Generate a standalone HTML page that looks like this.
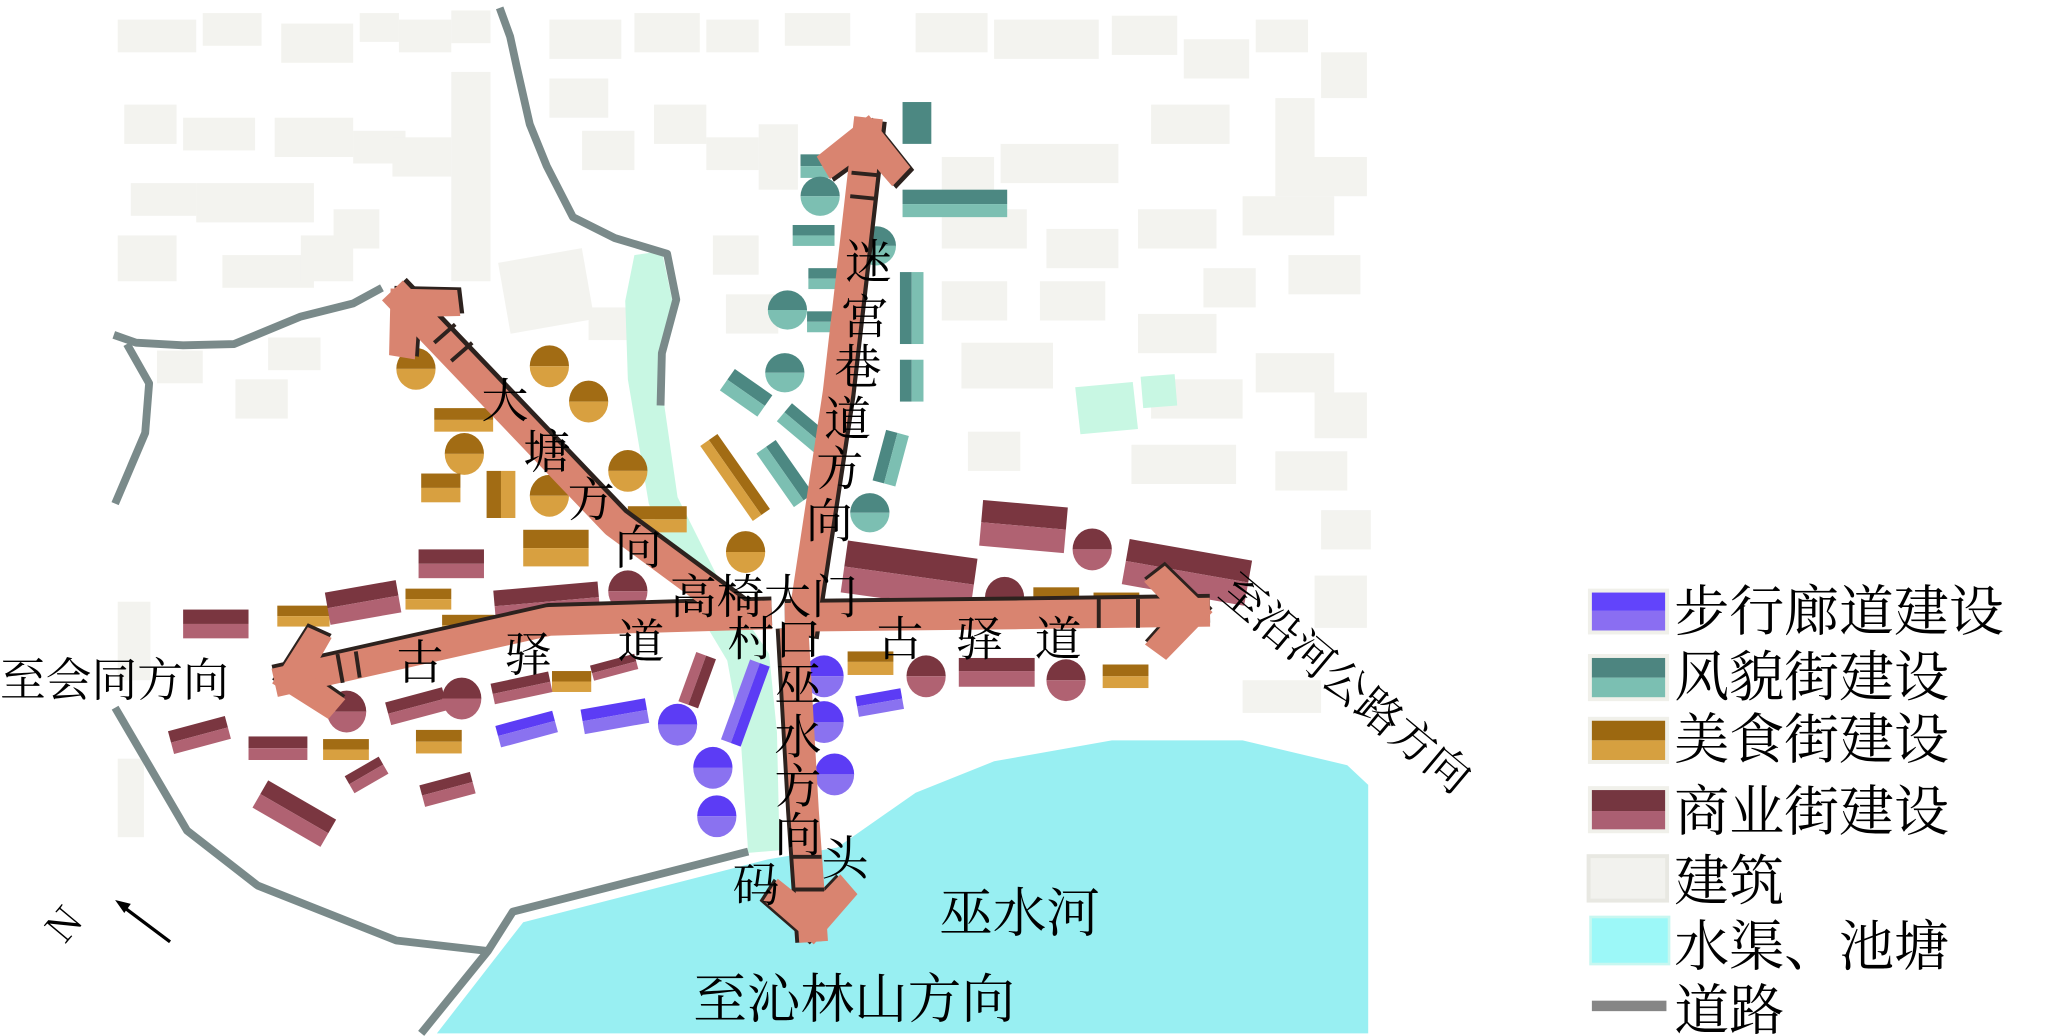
<!DOCTYPE html>
<html><head><meta charset="utf-8">
<style>
html,body{margin:0;padding:0;background:#fff;}
svg{display:block;}
text{font-family:"Noto Serif CJK SC","Liberation Serif",serif;fill:#000;}
</style></head>
<body>
<svg width="2051" height="1036" viewBox="0 0 1568 792" preserveAspectRatio="none" xmlns="http://www.w3.org/2000/svg">
<defs>
<marker id="ah" markerUnits="userSpaceOnUse" markerWidth="90" markerHeight="90" refX="4" refY="0" viewBox="-55 -45 70 90" orient="auto">
<path d="M6,0 L-30,-36 L-46,-24 L-24,0 L-46,24 L-30,36 Z" fill="#d98470"/>
</marker>
<marker id="sh" markerUnits="userSpaceOnUse" markerWidth="90" markerHeight="90" refX="4" refY="0" viewBox="-55 -45 70 90" orient="auto">
<path d="M6,0 L-30,-36 L-46,-24 L-24,0 L-46,24 L-30,36 Z" fill="#2d221e"/>
</marker>
</defs>
<rect width="1568" height="792" fill="#fff"/>
<g fill="#f3f3ef">
<rect x="90" y="15" width="60" height="25"/><rect x="155" y="10" width="45" height="25"/><rect x="215" y="18" width="55" height="30"/><rect x="275" y="10" width="30" height="22"/><rect x="305" y="15" width="40" height="25"/><rect x="345" y="8" width="30" height="25"/>
<rect x="420" y="15" width="55" height="30"/><rect x="485" y="10" width="50" height="30"/><rect x="540" y="15" width="40" height="25"/><rect x="600" y="10" width="50" height="25"/><rect x="700" y="10" width="55" height="30"/><rect x="760" y="15" width="80" height="30"/><rect x="850" y="12" width="50" height="30"/><rect x="905" y="30" width="50" height="30"/><rect x="960" y="15" width="40" height="25"/><rect x="1010" y="40" width="35" height="35"/>
<rect x="95" y="80" width="40" height="30"/><rect x="140" y="90" width="55" height="25"/><rect x="210" y="90" width="60" height="30"/><rect x="270" y="100" width="40" height="25"/><rect x="300" y="105" width="45" height="30"/><rect x="345" y="55" width="30" height="160"/>
<rect x="420" y="60" width="45" height="30"/><rect x="445" y="100" width="40" height="30"/><rect x="500" y="80" width="40" height="30"/><rect x="540" y="105" width="40" height="25"/><rect x="580" y="95" width="30" height="50"/>
<rect x="720" y="120" width="40" height="30"/><rect x="765" y="110" width="90" height="30"/><rect x="880" y="80" width="60" height="30"/><rect x="975" y="75" width="30" height="75"/><rect x="1000" y="120" width="45" height="30"/>
<rect x="100" y="140" width="50" height="25"/><rect x="150" y="140" width="90" height="30"/><rect x="255" y="160" width="35" height="30"/><rect x="170" y="195" width="70" height="25"/><rect x="230" y="180" width="40" height="35"/><rect x="90" y="180" width="45" height="35"/>
<rect x="385" y="195" width="65" height="55" transform="rotate(-10 417 222)"/><rect x="450" y="235" width="45" height="25"/><rect x="555" y="225" width="40" height="30"/><rect x="545" y="180" width="35" height="30"/>
<rect x="720" y="160" width="65" height="30"/><rect x="800" y="175" width="55" height="30"/><rect x="870" y="160" width="60" height="30"/><rect x="950" y="150" width="70" height="30"/><rect x="985" y="195" width="55" height="30"/>
<rect x="720" y="215" width="50" height="30"/><rect x="795" y="215" width="50" height="30"/><rect x="870" y="240" width="60" height="30"/><rect x="920" y="205" width="40" height="30"/><rect x="735" y="262" width="70" height="35"/><rect x="880" y="290" width="70" height="30"/><rect x="960" y="270" width="60" height="30"/><rect x="1005" y="300" width="40" height="35"/><rect x="865" y="340" width="80" height="30"/><rect x="975" y="345" width="55" height="30"/><rect x="740" y="330" width="40" height="30"/><rect x="1010" y="390" width="38" height="30"/>
<rect x="120" y="268" width="35" height="25"/><rect x="180" y="290" width="40" height="30"/><rect x="205" y="258" width="40" height="25"/><rect x="90" y="460" width="25" height="60"/><rect x="90" y="580" width="20" height="60"/><rect x="1005" y="440" width="40" height="40"/><rect x="950" y="520" width="60" height="25"/>
</g>
<path d="M334,790 L400,705 L587,657 L640,648 L700,606 L760,582 L850,566 L950,566 L1030,585 L1046,600 L1046,790 Z" fill="#98eff2"/>
<path d="M485,195 L506,192 L514,230 L505,290 L518,380 L548,440 L588,500 L594,560 L596,650 L572,652 L566,560 L556,505 L520,445 L496,385 L480,290 L478,230 Z" fill="#c8f7e3"/>
<path d="M822,296 L866,292 L870,328 L826,332 Z M872,288 L898,286 L900,310 L874,312 Z" fill="#c8f7e3"/>
<g fill="none" stroke="#7a8a8a" stroke-width="6" stroke-linejoin="round">
<path d="M382,6 L390,28 L395,51 L405,95 L418,127 L438,166 L470,182 L510,194 L517,229 L506,270 L505,310"/>
<path d="M292,220 L270,232 L230,242 L179,263 L140,264 L104,262 L87,256"/>
<path d="M97,263 L114,293 L111,331 L88,385"/>
<path d="M88,541 L112,582 L143,635 L197,677 L303,719 L373,727"/>
<path d="M322,790 L373,727 L392,697 L572,651"/>
</g>
<g>
<g fill="#4c8882"><rect x="690" y="78" width="22" height="32"/><rect x="612" y="118" width="30" height="9"/><rect x="690" y="145" width="80" height="11"/><rect x="606" y="172" width="32" height="8"/><rect x="618" y="205" width="35" height="8"/><rect x="688" y="208" width="9" height="55"/><rect x="617" y="238" width="30" height="8"/><rect x="688" y="275" width="9" height="32"/></g>
<g fill="#7cbfb2"><rect x="612" y="127" width="30" height="9"/><rect x="690" y="156" width="80" height="10"/><rect x="606" y="180" width="32" height="8"/><rect x="618" y="213" width="35" height="8"/><rect x="697" y="208" width="9" height="55"/><rect x="617" y="246" width="30" height="8"/><rect x="697" y="275" width="9" height="32"/></g>
<g transform="rotate(35 570 300)"><rect x="553" y="290" width="35" height="10" fill="#4c8882"/><rect x="553" y="300" width="35" height="10" fill="#7cbfb2"/></g>
<g transform="rotate(40 615 328)"><rect x="595" y="319" width="40" height="9" fill="#4c8882"/><rect x="595" y="328" width="40" height="9" fill="#7cbfb2"/></g>
<g transform="rotate(55 600 362)"><rect x="575" y="353" width="50" height="9" fill="#4c8882"/><rect x="575" y="362" width="50" height="9" fill="#7cbfb2"/></g>
<g transform="rotate(15 680 350)"><rect x="672" y="330" width="9" height="40" fill="#4c8882"/><rect x="681" y="330" width="9" height="40" fill="#7cbfb2"/></g>
<g><path d="M612,150 a15,15 0 0 1 30,0 Z" fill="#4c8882"/><path d="M612,150 a15,15 0 0 0 30,0 Z" fill="#7cbfb2"/></g>
<g><path d="M655,188 a15,15 0 0 1 30,0 Z" fill="#4c8882"/><path d="M655,188 a15,15 0 0 0 30,0 Z" fill="#7cbfb2"/></g>
<g><path d="M587,237 a15,15 0 0 1 30,0 Z" fill="#4c8882"/><path d="M587,237 a15,15 0 0 0 30,0 Z" fill="#7cbfb2"/></g>
<g><path d="M585,285 a15,15 0 0 1 30,0 Z" fill="#4c8882"/><path d="M585,285 a15,15 0 0 0 30,0 Z" fill="#7cbfb2"/></g>
<g><path d="M650,392 a15,15 0 0 1 30,0 Z" fill="#4c8882"/><path d="M650,392 a15,15 0 0 0 30,0 Z" fill="#7cbfb2"/></g>
<g fill="#a26c14">
<path d="M303,282 a15,16 0 0 1 30,0 Z"/><path d="M405,280 a15,16 0 0 1 30,0 Z"/><path d="M435,307 a15,16 0 0 1 30,0 Z"/><path d="M340,347 a15,16 0 0 1 30,0 Z"/><path d="M465,360 a15,16 0 0 1 30,0 Z"/><path d="M405,379 a15,16 0 0 1 30,0 Z"/><path d="M555,422 a15,16 0 0 1 30,0 Z"/>
</g>
<g fill="#d8a040">
<path d="M303,282 a15,16 0 0 0 30,0 Z"/><path d="M405,280 a15,16 0 0 0 30,0 Z"/><path d="M435,307 a15,16 0 0 0 30,0 Z"/><path d="M340,347 a15,16 0 0 0 30,0 Z"/><path d="M465,360 a15,16 0 0 0 30,0 Z"/><path d="M405,379 a15,16 0 0 0 30,0 Z"/><path d="M555,422 a15,16 0 0 0 30,0 Z"/>
</g>
<g>
<rect x="332" y="312" width="45" height="9" fill="#a26c14"/><rect x="332" y="321" width="45" height="9" fill="#d8a040"/>
<rect x="322" y="362" width="30" height="11" fill="#a26c14"/><rect x="322" y="373" width="30" height="11" fill="#d8a040"/>
<rect x="372" y="360" width="11" height="36" fill="#a26c14"/><rect x="383" y="360" width="11" height="36" fill="#d8a040"/>
<rect x="400" y="405" width="50" height="14" fill="#a26c14"/><rect x="400" y="419" width="50" height="14" fill="#d8a040"/>
<rect x="480" y="387" width="45" height="10" fill="#a26c14"/><rect x="480" y="397" width="45" height="10" fill="#d8a040"/>
<g transform="rotate(55 562 365)"><rect x="527" y="357" width="70" height="8" fill="#a26c14"/><rect x="527" y="365" width="70" height="8" fill="#d8a040"/></g>
<rect x="212" y="463" width="40" height="8" fill="#a26c14"/><rect x="212" y="471" width="40" height="8" fill="#d8a040"/>
<rect x="310" y="450" width="35" height="8" fill="#a26c14"/><rect x="310" y="458" width="35" height="8" fill="#d8a040"/>
<rect x="338" y="470" width="40" height="8" fill="#a26c14"/><rect x="338" y="478" width="40" height="8" fill="#d8a040"/>
<rect x="422" y="513" width="30" height="8" fill="#a26c14"/><rect x="422" y="521" width="30" height="8" fill="#d8a040"/>
<rect x="247" y="565" width="35" height="8" fill="#a26c14"/><rect x="247" y="573" width="35" height="8" fill="#d8a040"/>
<rect x="318" y="558" width="35" height="9" fill="#a26c14"/><rect x="318" y="567" width="35" height="9" fill="#d8a040"/>
<rect x="790" y="449" width="35" height="9" fill="#a26c14"/><rect x="790" y="458" width="35" height="9" fill="#d8a040"/>
<rect x="836" y="453" width="35" height="9" fill="#a26c14"/><rect x="836" y="462" width="35" height="9" fill="#d8a040"/>
<rect x="648" y="498" width="35" height="8" fill="#a26c14"/><rect x="648" y="506" width="35" height="10" fill="#d8a040"/>
<rect x="843" y="508" width="35" height="9" fill="#a26c14"/><rect x="843" y="517" width="35" height="9" fill="#d8a040"/>
</g>
<g>
<rect x="140" y="466" width="50" height="11" fill="#7a3640"/><rect x="140" y="477" width="50" height="11" fill="#b06272"/>
<g transform="rotate(-10 278 460)"><rect x="250" y="448" width="55" height="12" fill="#7a3640"/><rect x="250" y="460" width="55" height="13" fill="#b06272"/></g>
<rect x="320" y="420" width="50" height="11" fill="#7a3640"/><rect x="320" y="431" width="50" height="11" fill="#b06272"/>
<g transform="rotate(-5 418 460)"><rect x="378" y="448" width="80" height="12" fill="#7a3640"/><rect x="378" y="460" width="80" height="13" fill="#b06272"/></g>
<g transform="rotate(-15 318 540)"><rect x="296" y="531" width="45" height="9" fill="#7a3640"/><rect x="296" y="540" width="45" height="9" fill="#b06272"/></g>
<g transform="rotate(-12 398 525)"><rect x="376" y="518" width="45" height="8" fill="#7a3640"/><rect x="376" y="526" width="45" height="8" fill="#b06272"/></g>
<g transform="rotate(-15 470 510)"><rect x="452" y="504" width="35" height="6" fill="#7a3640"/><rect x="452" y="510" width="35" height="6" fill="#b06272"/></g>
<g transform="rotate(20 533 520)"><rect x="525" y="500" width="8" height="40" fill="#b06272"/><rect x="533" y="500" width="8" height="40" fill="#7a3640"/></g>
<g transform="rotate(-15 152 562)"><rect x="130" y="553" width="45" height="9" fill="#7a3640"/><rect x="130" y="562" width="45" height="9" fill="#b06272"/></g>
<rect x="190" y="563" width="45" height="9" fill="#7a3640"/><rect x="190" y="572" width="45" height="9" fill="#b06272"/>
<g transform="rotate(-30 280 592)"><rect x="265" y="585" width="30" height="7" fill="#7a3640"/><rect x="265" y="592" width="30" height="8" fill="#b06272"/></g>
<g transform="rotate(-15 342 603)"><rect x="322" y="595" width="40" height="8" fill="#7a3640"/><rect x="322" y="603" width="40" height="9" fill="#b06272"/></g>
<g transform="rotate(30 225 622)"><rect x="195" y="610" width="60" height="12" fill="#7a3640"/><rect x="195" y="622" width="60" height="12" fill="#b06272"/></g>
<g transform="rotate(5 782 402)"><rect x="750" y="385" width="65" height="17" fill="#7a3640"/><rect x="750" y="402" width="65" height="18" fill="#b06272"/></g>
<g transform="rotate(8 695 440)"><rect x="645" y="420" width="100" height="20" fill="#7a3640"/><rect x="645" y="440" width="100" height="20" fill="#b06272"/></g>
<g transform="rotate(10 907 437)"><rect x="860" y="420" width="95" height="17" fill="#7a3640"/><rect x="860" y="437" width="95" height="18" fill="#b06272"/></g>
<rect x="733" y="503" width="58" height="10" fill="#7a3640"/><rect x="733" y="513" width="58" height="12" fill="#b06272"/>
</g>
<g fill="#7a3640">
<path d="M465,452 a15,16 0 0 1 30,0 Z"/><path d="M250,544 a15,16 0 0 1 30,0 Z"/><path d="M338,534 a15,16 0 0 1 30,0 Z"/><path d="M820,420 a15,16 0 0 1 30,0 Z"/><path d="M753,457 a15,16 0 0 1 30,0 Z"/><path d="M693,517 a15,16 0 0 1 30,0 Z"/><path d="M800,520 a15,16 0 0 1 30,0 Z"/>
</g>
<g fill="#b06272">
<path d="M465,452 a15,16 0 0 0 30,0 Z"/><path d="M250,544 a15,16 0 0 0 30,0 Z"/><path d="M338,534 a15,16 0 0 0 30,0 Z"/><path d="M820,420 a15,16 0 0 0 30,0 Z"/><path d="M753,457 a15,16 0 0 0 30,0 Z"/><path d="M693,517 a15,16 0 0 0 30,0 Z"/><path d="M800,520 a15,16 0 0 0 30,0 Z"/>
</g>
<g fill="#5c3cf5">
<path d="M615,517 a15,16 0 0 1 30,0 Z"/><path d="M503,554 a15,16 0 0 1 30,0 Z"/><path d="M615,552 a15,16 0 0 1 30,0 Z"/><path d="M530,587 a15,16 0 0 1 30,0 Z"/><path d="M623,592 a15,16 0 0 1 30,0 Z"/><path d="M533,624 a15,16 0 0 1 30,0 Z"/>
</g>
<g fill="#8a72f0">
<path d="M615,517 a15,16 0 0 0 30,0 Z"/><path d="M503,554 a15,16 0 0 0 30,0 Z"/><path d="M615,552 a15,16 0 0 0 30,0 Z"/><path d="M530,587 a15,16 0 0 0 30,0 Z"/><path d="M623,592 a15,16 0 0 0 30,0 Z"/><path d="M533,624 a15,16 0 0 0 30,0 Z"/>
</g>
<g transform="rotate(-15 402 557)"><rect x="380" y="549" width="45" height="8" fill="#5c3cf5"/><rect x="380" y="557" width="45" height="9" fill="#8a72f0"/></g>
<g transform="rotate(-10 470 547)"><rect x="445" y="538" width="50" height="9" fill="#5c3cf5"/><rect x="445" y="547" width="50" height="10" fill="#8a72f0"/></g>
<g transform="rotate(-10 673 537)"><rect x="655" y="529" width="35" height="8" fill="#5c3cf5"/><rect x="655" y="537" width="35" height="8" fill="#8a72f0"/></g>
<g transform="rotate(20 570 537)"><rect x="562" y="505" width="8" height="65" fill="#8a72f0"/><rect x="570" y="505" width="8" height="65" fill="#5c3cf5"/></g>
</g>
<g fill="none" stroke="#2d221e" stroke-width="22" stroke-linejoin="round">
<path d="M612,485 L640,300 L664,90" marker-end="url(#sh)" transform="translate(3,2)"/>
<path d="M565,470 L470,400 L300,222" marker-end="url(#sh)" transform="translate(3,-2)"/>
<path d="M590,470 L420,475 L210,522" marker-end="url(#sh)" transform="translate(0,-3)"/>
<path d="M600,472 L780,470 L925,468" marker-end="url(#sh)" transform="translate(0,-3)"/>
<path d="M607,480 L615,620 L622,720" marker-end="url(#sh)" transform="translate(-3,0)"/>
</g>
<g fill="none" stroke="#d98470" stroke-width="22" stroke-linejoin="round">
<path d="M612,485 L640,300 L664,90" marker-end="url(#ah)"/>
<path d="M565,470 L470,400 L300,222" marker-end="url(#ah)"/>
<path d="M590,470 L420,475 L210,522" marker-end="url(#ah)"/>
<path d="M600,472 L780,470 L925,468" marker-end="url(#ah)"/>
<path d="M607,480 L615,620 L622,720" marker-end="url(#ah)"/>
</g>
<g stroke="#2d221e" stroke-width="3">
<line x1="651" y1="132" x2="672" y2="134"/><line x1="650" y1="150" x2="670" y2="152"/>
<line x1="332" y1="262" x2="348" y2="248"/><line x1="345" y1="276" x2="361" y2="262"/>
<line x1="258" y1="500" x2="262" y2="522"/><line x1="272" y1="498" x2="275" y2="518"/>
<line x1="840" y1="458" x2="840" y2="480"/><line x1="870" y1="458" x2="870" y2="480"/>
<line x1="606" y1="655" x2="628" y2="655"/><line x1="608" y1="680" x2="630" y2="680"/>
</g>
<g font-size="36">
<text x="646" y="213">迷</text><text x="643" y="255">宫</text><text x="638" y="293">巷</text><text x="630" y="333">道</text><text x="624" y="371">方</text><text x="616" y="411">向</text>
<text x="368" y="319">大</text><text x="400" y="358">塘</text><text x="434" y="395">方</text><text x="470" y="431">向</text>
<text x="512" y="469">高椅大门</text>
<text x="303" y="519">古</text><text x="386" y="513">驿</text><text x="472" y="503">道</text>
<text x="556" y="501">村口</text>
<text x="670" y="501">古</text><text x="731" y="501">驿</text><text x="791" y="501">道</text>
<text x="592" y="536">巫</text><text x="592" y="576">水</text><text x="592" y="614">方</text><text x="592" y="651">向</text>
<text x="560" y="689">码</text><text x="628" y="669">头</text>
<text x="0" y="532" font-size="35">至会同方向</text>
<text x="930" y="455" font-size="34" transform="rotate(40 930 455)">至沿河公路方向</text>
<text x="530" y="778" font-size="41">至沁林山方向</text>
<text x="718" y="712" font-size="41">巫水河</text>
</g>
<text x="38" y="712" font-size="30" transform="rotate(-50 55 705)">N</text>
<line x1="130" y1="720" x2="94" y2="693" stroke="#000" stroke-width="2.5"/>
<path d="M88,688 L100,691 L95,698 Z" fill="#000"/>
<g>
<rect x="1214" y="450" width="62" height="35" fill="#f0f0ea"/><rect x="1217" y="453" width="56" height="14" fill="#6244fb"/><rect x="1217" y="467" width="56" height="15" fill="#8a6ef2"/>
<rect x="1214" y="500" width="62" height="36" fill="#f0f0ea"/><rect x="1217" y="503" width="56" height="15" fill="#4d8580"/><rect x="1217" y="518" width="56" height="15" fill="#7bbfb2"/>
<rect x="1214" y="548" width="62" height="36" fill="#f0f0ea"/><rect x="1217" y="551" width="56" height="15" fill="#9c6810"/><rect x="1217" y="566" width="56" height="15" fill="#d6a040"/>
<rect x="1214" y="601" width="62" height="36" fill="#f0f0ea"/><rect x="1217" y="604" width="56" height="16" fill="#753640"/><rect x="1217" y="620" width="56" height="14" fill="#ab5f72"/>
<rect x="1213" y="653" width="63" height="37" fill="#e8e8e2"/><rect x="1216" y="656" width="57" height="31" fill="#f2f2ee"/>
<rect x="1215" y="700" width="62" height="38" fill="#c8f7f0"/><rect x="1217" y="702" width="58" height="34" fill="#9cf8f8"/>
<rect x="1217" y="765" width="57" height="8" fill="#868686"/>
<g font-size="42">
<text x="1280" y="482">步行廊道建设</text>
<text x="1280" y="532">风貌街建设</text>
<text x="1280" y="580">美食街建设</text>
<text x="1280" y="635">商业街建设</text>
<text x="1280" y="688">建筑</text>
<text x="1280" y="738">水渠、池塘</text>
<text x="1280" y="787">道路</text>
</g>
</g>
</svg>
</body></html>
